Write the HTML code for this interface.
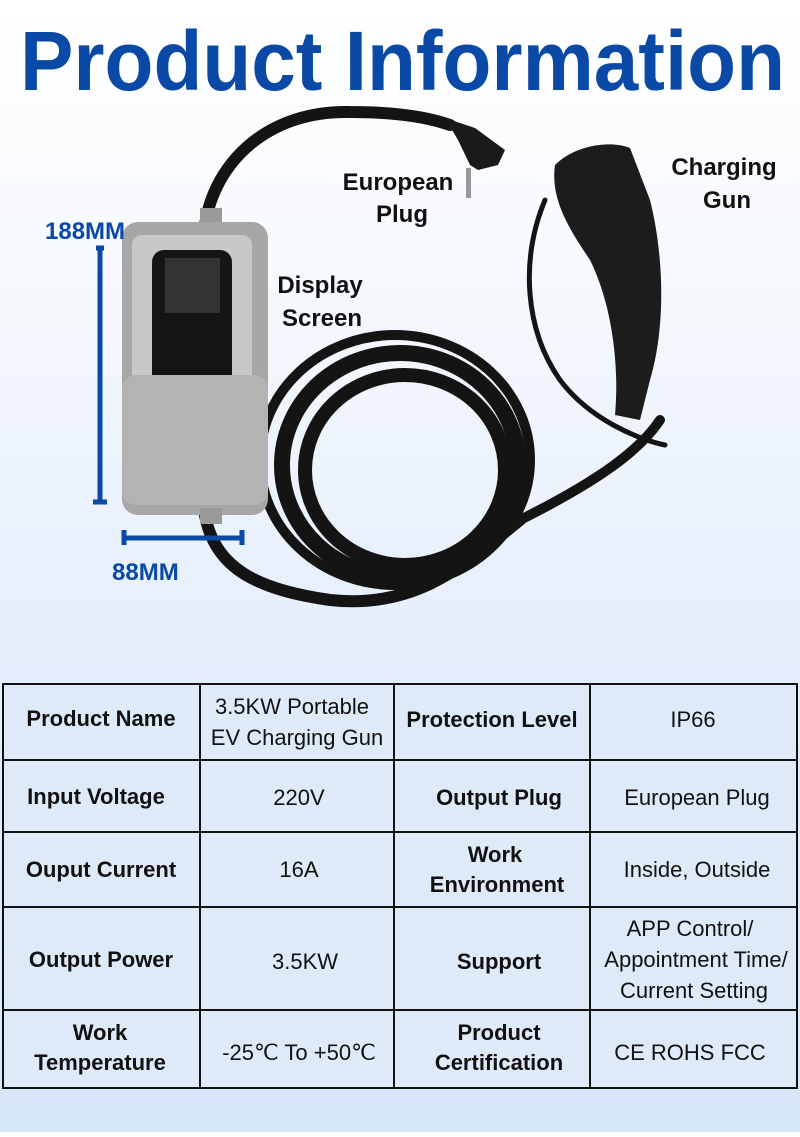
<!DOCTYPE html>
<html><head><meta charset="utf-8"><style>
html,body{margin:0;padding:0}
body{width:800px;height:1132px;overflow:hidden;background:linear-gradient(#ffffff 0%,#f3f7fd 30%,#e3edfb 60%,#d8e6fa 100%);font-family:"Liberation Sans",sans-serif}
</style></head><body>
<svg width="800" height="1132" viewBox="0 0 800 1132" xmlns="http://www.w3.org/2000/svg" font-family="Liberation Sans, sans-serif">
<text x="20" y="90" font-size="84" font-weight="bold" fill="#0b49a6" textLength="765" lengthAdjust="spacingAndGlyphs">Product Information</text>
<g fill="none" stroke="#141414" stroke-linecap="round">
<path d="M205 225 C215 160 270 110 350 112 C400 112 430 118 450 125" stroke-width="12"/>
<ellipse cx="400" cy="465" rx="118" ry="112" stroke-width="16"/>
<ellipse cx="405" cy="470" rx="100" ry="95" stroke-width="14"/>
<ellipse cx="395" cy="460" rx="135" ry="125" stroke-width="10"/>
<path d="M205 515 C215 570 260 590 330 600 C420 610 470 560 520 520" stroke-width="12"/>
<path d="M520 520 C600 480 640 450 660 420" stroke-width="10"/>
<path d="M545 200 C520 260 525 330 560 380 C590 420 640 440 665 445" stroke-width="5"/>
</g>
<path d="M445 118 L475 128 L505 150 L498 165 L478 170 L470 165 L458 140 Z" fill="#1a1a1a"/>
<rect x="466" y="168" width="5" height="30" fill="#999"/>
<path d="M555 165 C575 145 610 140 630 148 L650 200 C665 260 665 330 650 380 L640 420 L615 415 C620 360 610 300 590 260 C570 230 550 200 555 165 Z" fill="#1c1c1c"/>
<rect x="200" y="208" width="22" height="20" fill="#9a9a9a"/>
<rect x="122" y="222" width="146" height="293" rx="16" fill="#a7a7a7"/>
<rect x="132" y="235" width="120" height="240" rx="10" fill="#c8c8c8"/>
<rect x="152" y="250" width="80" height="185" rx="12" fill="#151515"/>
<rect x="165" y="258" width="55" height="55" fill="#333"/>
<rect x="122" y="375" width="146" height="130" rx="14" fill="#b3b3b3"/>
<rect x="200" y="508" width="22" height="16" fill="#9a9a9a"/>
<g stroke="#0b49a6" stroke-width="5" fill="none">
<path d="M96 248 H104 M100 248 V502 M93 502 H107"/>
<path d="M124 530 V545 M124 538 H242 M242 530 V545"/>
</g>
<g fill="#0b49a6" font-size="24" font-weight="bold">
<text x="45" y="239">188MM</text>
<text x="112" y="580">88MM</text>
</g>
<g fill="#111" font-size="24" font-weight="bold" text-anchor="middle">
<text x="398" y="190">European</text><text x="402" y="222">Plug</text>
<text x="724" y="175">Charging</text><text x="727" y="208">Gun</text>
<text x="320" y="293">Display</text><text x="322" y="326">Screen</text>
</g>
<g fill="#dfeaf8" stroke="#111" stroke-width="2">
<rect x="3" y="684" width="794" height="404"/>
</g>
<g stroke="#111" stroke-width="2">
<line x1="200" y1="684" x2="200" y2="1088"/><line x1="394" y1="684" x2="394" y2="1088"/><line x1="590" y1="684" x2="590" y2="1088"/>
<line x1="3" y1="760" x2="797" y2="760"/><line x1="3" y1="832" x2="797" y2="832"/><line x1="3" y1="907" x2="797" y2="907"/><line x1="3" y1="1010" x2="797" y2="1010"/>
</g>
<g font-size="22" fill="#111" text-anchor="middle">
<g font-weight="bold">
<text x="101" y="726">Product Name</text>
<text x="492" y="727">Protection Level</text>
<text x="96" y="804">Input Voltage</text>
<text x="499" y="805">Output Plug</text>
<text x="101" y="877">Ouput Current</text>
<text x="495" y="862">Work</text><text x="497" y="892">Environment</text>
<text x="101" y="967">Output Power</text>
<text x="499" y="969">Support</text>
<text x="100" y="1040">Work</text><text x="100" y="1070">Temperature</text>
<text x="499" y="1040">Product</text><text x="499" y="1070">Certification</text>
</g>
<text x="292" y="714">3.5KW Portable</text><text x="297" y="745">EV Charging Gun</text>
<text x="693" y="727">IP66</text>
<text x="299" y="805">220V</text>
<text x="697" y="805">European Plug</text>
<text x="299" y="877">16A</text>
<text x="697" y="877">Inside, Outside</text>
<text x="305" y="969">3.5KW</text>
<text x="690" y="936">APP Control/</text><text x="696" y="967">Appointment Time/</text><text x="694" y="998">Current Setting</text>
<text x="299" y="1060">-25℃ To +50℃</text>
<text x="690" y="1060">CE ROHS FCC</text>
</g>
</svg>
</body></html>
